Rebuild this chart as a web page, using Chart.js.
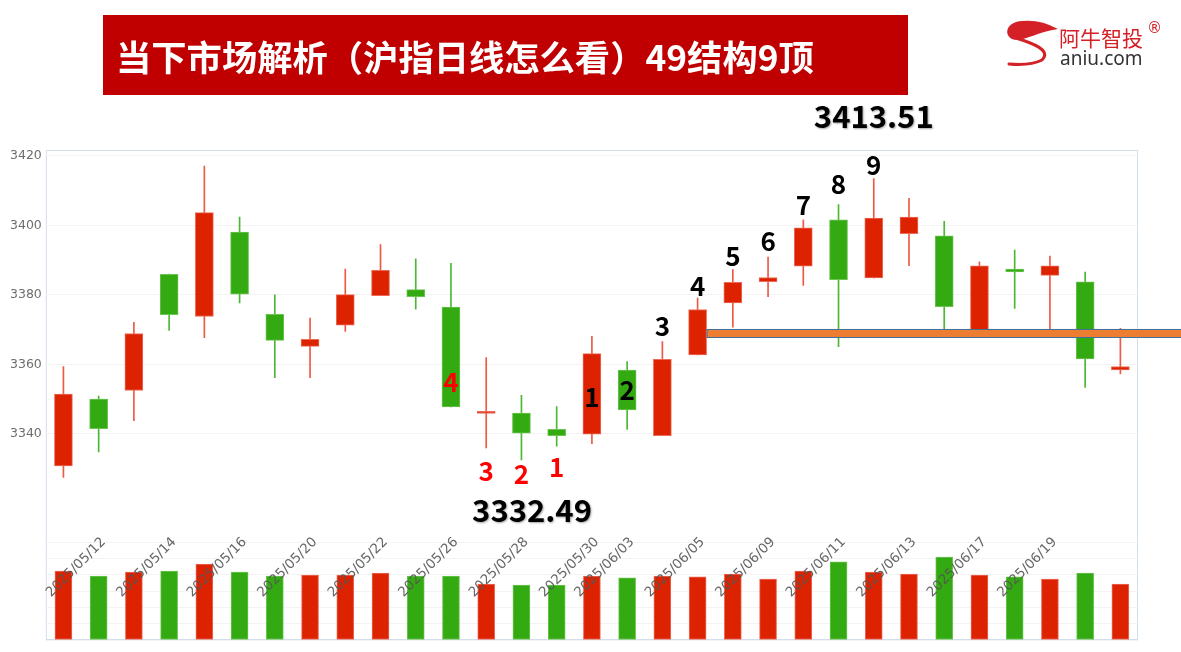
<!DOCTYPE html>
<html>
<head>
<meta charset="utf-8">
<script src="https://cdn.jsdelivr.net/npm/chart.js@4.4.1/dist/chart.umd.min.js"></script>
<style>
html, body { margin: 0; padding: 0; background: #fff; }
#wrap { width: 1181px; height: 652px; }
</style>
</head>
<body>
<div id="wrap"><canvas id="kline" width="1181" height="652"></canvas></div>
<script>
const dates = ['2025/05/09', '2025/05/12', '2025/05/13', '2025/05/14', '2025/05/15', '2025/05/16',
    '2025/05/19', '2025/05/20', '2025/05/21', '2025/05/22', '2025/05/23', '2025/05/26', '2025/05/27',
    '2025/05/28', '2025/05/29', '2025/05/30', '2025/06/03', '2025/06/04', '2025/06/05', '2025/06/06',
    '2025/06/09', '2025/06/10', '2025/06/11', '2025/06/12', '2025/06/13', '2025/06/16', '2025/06/17',
    '2025/06/18', '2025/06/19', '2025/06/20', '2025/06/23'];
const opens  = [3330.8, 3350.0, 3352.5, 3385.9, 3373.8, 3398.1, 3374.4, 3365.2, 3371.3, 3379.8, 3381.5,
    3376.5, 3345.9, 3346.0, 3341.3, 3339.9, 3358.4, 3339.5, 3362.7, 3377.7, 3383.8, 3388.3, 3401.6,
    3384.9, 3397.6, 3397.0, 3368.8, 3387.4, 3385.6, 3383.8, 3358.4];
const highs  = [3359.4, 3350.9, 3372.1, 3386.0, 3417.1, 3402.4, 3380.0, 3373.3, 3387.4, 3394.5, 3390.4,
    3389.1, 3362.0, 3351.1, 3347.9, 3368.1, 3360.8, 3366.6, 3379.1, 3387.3, 3390.9, 3401.6, 3406.0,
    3413.51, 3407.8, 3401.2, 3389.5, 3392.9, 3391.2, 3386.6, 3370.4];
const lows   = [3327.5, 3334.8, 3343.8, 3369.8, 3367.7, 3377.7, 3356.2, 3356.2, 3369.5, 3379.8, 3375.9,
    3347.8, 3336.0, 3332.49, 3336.5, 3337.2, 3341.3, 3339.5, 3362.7, 3370.7, 3379.5, 3382.7, 3365.1,
    3384.9, 3388.4, 3369.5, 3368.8, 3376.1, 3369.5, 3353.4, 3357.3];
const closes = [3351.5, 3341.5, 3368.9, 3374.3, 3403.7, 3380.2, 3366.9, 3367.2, 3380.1, 3387.1, 3379.5,
    3347.8, 3346.4, 3340.2, 3339.5, 3363.1, 3346.9, 3361.5, 3375.8, 3383.6, 3385.0, 3399.3, 3384.4,
    3402.1, 3402.4, 3376.6, 3388.4, 3386.6, 3388.4, 3361.6, 3359.4];
const volumes = [422, 392, 416, 422, 465, 416, 392, 398, 398, 410, 392, 392, 343, 337, 337, 392,
    380, 392, 386, 404, 373, 422, 478, 416, 404, 508, 398, 386, 373, 410, 343];

const dateLabels = ['2025/05/12', '2025/05/14', '2025/05/16', '2025/05/20', '2025/05/22', '2025/05/26',
    '2025/05/28', '2025/05/30', '2025/06/03', '2025/06/05', '2025/06/09', '2025/06/11', '2025/06/13',
    '2025/06/17', '2025/06/19'];
const priceTicks = [3340, 3360, 3380, 3400, 3420];
const volumeTicks = [0, 100, 200, 300, 400, 500, 600];

// support band from the 06/05 candle
const supportBand = [3367.8, 3370.2];
const supportFrom = 18;

const titleText = '当下市场解析（沪指日线怎么看）49结构9顶';

// numbered marks: text, candle index, price level
const marks = [
    ['4', 11, 3355.0, '#ff0000'], ['3', 12, 3329.4, '#ff0000'], ['2', 13, 3328.5, '#ff0000'],
    ['1', 14, 3330.5, '#ff0000'], ['1', 15, 3350.6, '#000'], ['2', 16, 3352.7, '#000'],
    ['3', 17, 3371.1, '#000'], ['4', 18, 3382.6, '#000'], ['5', 19, 3391.2, '#000'],
    ['6', 20, 3395.5, '#000'], ['7', 21, 3405.9, '#000'], ['8', 22, 3411.9, '#000'],
    ['9', 23, 3417.4, '#000']
];
const extremes = [['3413.51', 23, 3431.5], ['3332.49', 13.3, 3318.1]];

const RED = '#dd2200';
const GREEN = '#33aa11';

const isUp = opens.map((o, i) => closes[i] >= o);
const bodyColor = isUp.map(u => u ? RED : GREEN);
const edgeColor = isUp.map(u => u ? '#ec6a58' : '#6cc352');
const wickColor = isUp.map(u => u ? '#ec5a44' : '#4cb832');

function drawLogo(ctx) {
    ctx.save();
    ctx.fillStyle = '#d42027';
    ctx.strokeStyle = '#d42027';
    ctx.beginPath();
    ctx.moveTo(1058, 29);
    ctx.quadraticCurveTo(1040, 19, 1022, 21);
    ctx.bezierCurveTo(1007, 22, 1003, 34, 1012, 39);
    ctx.bezierCurveTo(1022, 43, 1036, 32, 1058, 29);
    ctx.fill();
    ctx.lineWidth = 3;
    ctx.lineCap = 'round';
    ctx.beginPath();
    ctx.moveTo(1016, 38);
    ctx.bezierCurveTo(1032, 43, 1052, 50, 1042, 60);
    ctx.quadraticCurveTo(1030, 66, 1009, 64);
    ctx.stroke();
    ctx.textBaseline = 'alphabetic';
    ctx.textAlign = 'left';
    ctx.font = '21px "Noto Sans CJK SC"';
    ctx.fillText('阿牛智投', 1059, 46);
    ctx.font = '15px "DejaVu Sans"';
    ctx.fillText('®', 1147, 33);
    ctx.fillStyle = '#333';
    ctx.font = '19px "Noto Sans"';
    ctx.fillText('aniu.com', 1060, 65);
    ctx.restore();
}

const decor = {
    id: 'decor',
    beforeDraw(chart) {
        const ctx = chart.ctx;
        const a = chart.chartArea;
        ctx.save();
        ctx.fillStyle = '#fff';
        ctx.fillRect(0, 0, chart.width, chart.height);
        ctx.fillStyle = '#c00000';
        ctx.fillRect(103, 15, 805, 80);
        ctx.fillStyle = '#fff';
        ctx.font = 'bold 35.3px "Noto Sans CJK SC"';
        ctx.textBaseline = 'middle';
        ctx.fillText(titleText, 116, 58);
        drawLogo(ctx);
        ctx.strokeStyle = '#d3deeb';
        ctx.lineWidth = 1;
        ctx.strokeRect(a.left + 0.5, a.top + 0.5, a.right - a.left - 1, a.bottom - a.top - 1);
        ctx.restore();
    },
    afterDatasetsDraw(chart) {
        const ctx = chart.ctx;
        const x = chart.scales.x;
        const y = chart.scales.y;
        const yv = chart.scales.yv;
        ctx.save();

        // support band
        const top = y.getPixelForValue(supportBand[1]);
        const bottom = y.getPixelForValue(supportBand[0]);
        const left = x.getPixelForValue(supportFrom) + 9;
        ctx.fillStyle = '#ed7d31';
        ctx.fillRect(left, top, chart.width - left, bottom - top);
        ctx.strokeStyle = '#41719c';
        ctx.lineWidth = 1;
        ctx.strokeRect(left + 0.5, Math.round(top) + 0.5, chart.width - left, Math.round(bottom - top));

        // date labels
        ctx.fillStyle = 'rgba(85,85,85,0.9)';
        ctx.font = '13.5px "DejaVu Sans"';
        ctx.textAlign = 'right';
        ctx.textBaseline = 'middle';
        const labelY = yv.getPixelForValue(volumeTicks[volumeTicks.length - 1]) - 2;
        dateLabels.forEach(d => {
            const px = x.getPixelForValue(dates.indexOf(d));
            ctx.save();
            ctx.translate(px + 5, labelY);
            ctx.rotate(-Math.PI / 4);
            ctx.fillText(d, 0, 0);
            ctx.restore();
        });

        // numbered marks
        ctx.textAlign = 'center';
        ctx.font = 'bold 26px "Noto Sans CJK SC"';
        marks.forEach(m => {
            ctx.fillStyle = m[3];
            ctx.fillText(m[0], x.getPixelForValue(m[1]), y.getPixelForValue(m[2]));
        });

        // high / low values
        ctx.font = 'bold 31px "Noto Sans CJK SC"';
        ctx.shadowColor = 'rgba(0,0,0,0.35)';
        ctx.shadowOffsetX = 1;
        ctx.shadowOffsetY = 1;
        ctx.shadowBlur = 2;
        ctx.fillStyle = '#000';
        extremes.forEach(e => {
            ctx.fillText(e[0], x.getPixelForValue(e[1]), y.getPixelForValue(e[2]));
        });
        ctx.restore();
    }
};

const ctx = document.getElementById('kline').getContext('2d');
const klineChart = new Chart(ctx, {
    type: 'bar',
    data: {
        labels: dates,
        datasets: [{
            label: 'body',
            data: dates.map((d, i) => [opens[i], closes[i]]),
            yAxisID: 'y',
            backgroundColor: bodyColor,
            borderColor: edgeColor,
            borderWidth: 1,
            borderSkipped: false,
            barThickness: 18,
            minBarLength: 2,
            grouped: false,
            order: 0
        }, {
            label: 'wick',
            data: dates.map((d, i) => [lows[i], highs[i]]),
            yAxisID: 'y',
            backgroundColor: wickColor,
            barThickness: 1,
            grouped: false,
            order: 1
        }, {
            label: 'volume',
            data: volumes,
            yAxisID: 'yv',
            backgroundColor: bodyColor,
            borderColor: edgeColor,
            borderWidth: 1,
            borderSkipped: false,
            barThickness: 17,
            grouped: false,
            order: 2
        }]
    },
    options: {
        responsive: false,
        animation: false,
        layout: {
            padding: { top: 150, bottom: 12, left: 6, right: 43 }
        },
        plugins: {
            legend: { display: false },
            tooltip: { enabled: false }
        },
        scales: {
            x: {
                display: false,
                offset: true,
                grid: { display: false }
            },
            yv: {
                position: 'left',
                stack: 'k',
                stackWeight: 1,
                min: 0,
                max: 600,
                afterBuildTicks: function(scale) {
                    scale.ticks = volumeTicks.map(v => ({ value: v }));
                },
                ticks: { display: false },
                border: { display: false },
                grid: { color: '#f3f3f3', drawTicks: false }
            },
            y: {
                position: 'left',
                stack: 'k',
                stackWeight: 4,
                min: 3308.9,
                max: 3421.7,
                afterBuildTicks: function(scale) {
                    scale.ticks = priceTicks.map(v => ({ value: v }));
                },
                ticks: {
                    color: '#6e6e6e',
                    padding: 4,
                    font: { family: 'DejaVu Sans', size: 12.5 },
                    callback: function(value) {
                        return String(value);
                    }
                },
                border: { display: false },
                grid: { color: '#f3f3f3', drawTicks: false }
            }
        }
    },
    plugins: [decor]
});
</script>
</body>
</html>
